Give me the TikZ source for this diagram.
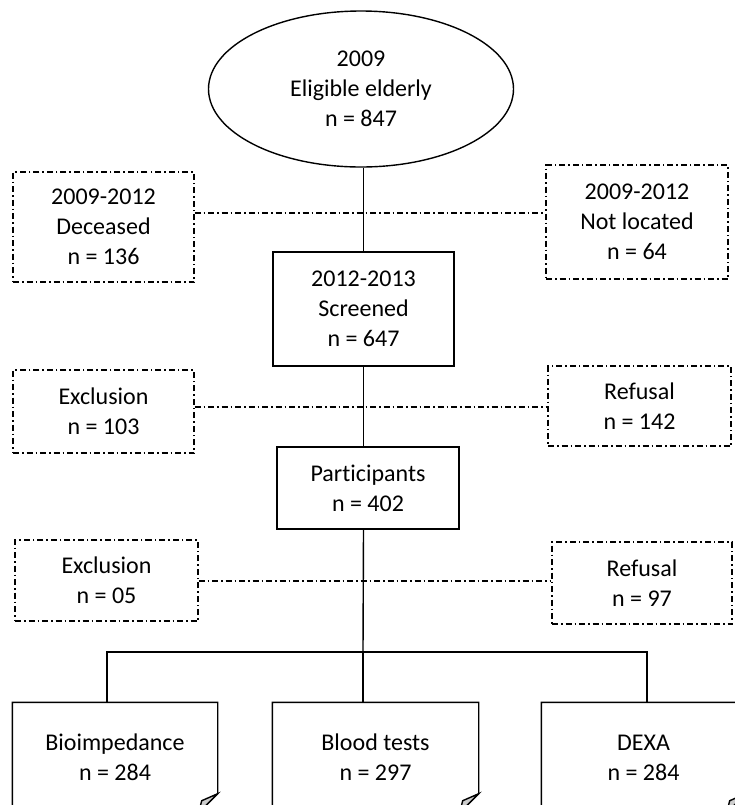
\documentclass[tikz,border=0pt]{standalone}
\usepackage{fontspec}
\setmainfont[Ligatures=NoCommon]{Carlito}
\usetikzlibrary{shapes.geometric}
\tikzset{
  stage/.style={draw, line width=0.7pt, align=center, inner sep=0pt, font=\fontsize{12pt}{15pt}\selectfont},
  dropout/.style={stage, line width=0.65pt, dash pattern=on 3pt off 1.5pt on 0.75pt off 1.5pt},
  arm/.style={stage, draw=none},
  link/.style={line width=0.7pt},
  droplink/.style={line width=0.65pt, dash pattern=on 3pt off 1.5pt on 0.75pt off 1.5pt},
}

\begin{document}
\begin{tikzpicture}[x=0.5pt, y=-0.5pt]
    \useasboundingbox (0,0) rectangle (735,805);
    \clip (0,0) rectangle (735,805);

    % place nodes
    \node[stage, ellipse, minimum width=152.5pt, minimum height=78pt] at (361,89) (elig) {2009\\Eligible elderly\\n = 847};

    \node[dropout, minimum width=90.5pt, minimum height=55pt] at (103.5,227) (dec)    {2009-2012\\Deceased\\n = 136};
    \node[dropout, minimum width=91pt,   minimum height=57pt] at (637,222)   (notloc) {2009-2012\\Not located\\n = 64};
    \node[stage,   minimum width=90.5pt, minimum height=57pt] at (363.5,309) (scr)    {2012-2013\\Screened\\n = 647};

    \node[dropout, minimum width=90.5pt, minimum height=41.5pt] at (103.5,411.5) (excla) {Exclusion\\n = 103};
    \node[dropout, minimum width=91.5pt, minimum height=40pt]   at (639.5,406)   (refa)  {Refusal\\n = 142};
    \node[stage,   minimum width=91pt,   minimum height=41pt]   at (368,488)     (part)  {Participants\\n = 402};

    \node[dropout, minimum width=91.5pt, minimum height=40.5pt] at (106.5,580.5) (exclb) {Exclusion\\n = 05};
    \node[dropout, minimum width=90pt,   minimum height=41pt]   at (642,583)     (refb)  {Refusal\\n = 97};

    \node[arm, minimum width=102pt,   minimum height=54.5pt] at (115,757.5)   (bio)   {Bioimpedance\\n = 284};
    \node[arm, minimum width=102.5pt, minimum height=54.5pt] at (375.5,757.5) (blood) {Blood tests\\n = 297};
    \node[arm, minimum width=101.5pt, minimum height=54.5pt] at (643.5,757.5) (dexa)  {DEXA\\n = 284};

    % junctions
    \coordinate (j1) at (363,213);
    \coordinate (j2) at (363,407);
    \coordinate (j3) at (363,581);
    \coordinate (split) at (363,652);
    \coordinate (bl) at (107,652);
    \coordinate (br) at (647,652);

    % draw edges
    \draw[link] (elig.south -| scr.south) -- (scr.north);
    \draw[link] (scr.south) -- (scr.south |- part.north);
    \draw[link] (scr.south |- part.south) -- (split);
    \draw[link] (bl |- bio.north) -- (bl) -- (br) -- (br |- dexa.north);
    \draw[link] (split) -- (split |- blood.north);

    \draw[droplink] (dec.east |- j1) -- (notloc.west |- j1);
    \draw[droplink] (excla.east |- j2) -- (refa.west |- j2);
    \draw[droplink] (exclb.east |- j3) -- (refb.west |- j3);

    % folded corners
    \foreach \n in {bio,blood,dexa}{
        \draw[link] (\n.south west) -- (\n.north west) -- (\n.north east) -- ([yshift=9.5pt]\n.south east) -- ([xshift=-9.5pt]\n.south east) -- cycle;
        \filldraw[link, fill=gray!40] ([yshift=9.5pt]\n.south east) -- ([xshift=-9.5pt]\n.south east) -- ([xshift=-8pt,yshift=6pt]\n.south east) -- cycle;
    }
\end{tikzpicture}
\end{document}
